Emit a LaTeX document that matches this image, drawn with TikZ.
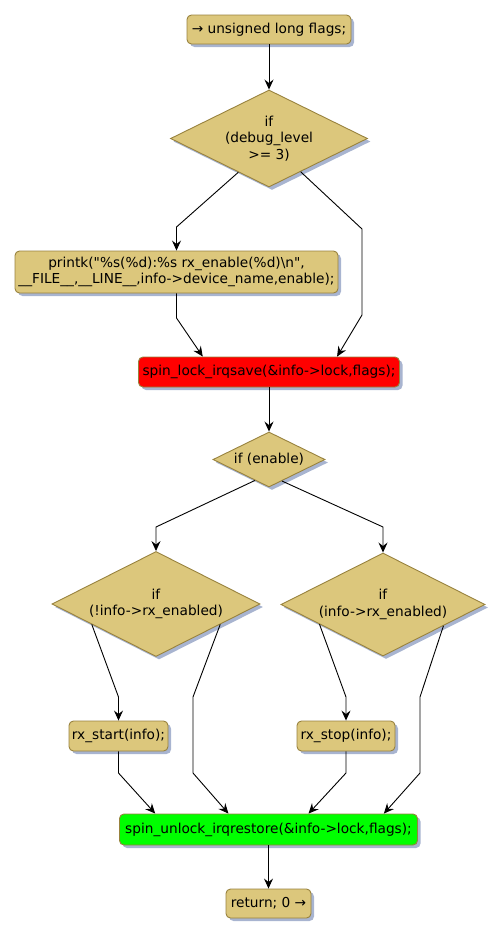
\documentclass[tikz,border=0pt]{standalone}
\usepackage{fontspec}
\newfontfamily\dvs{DejaVu Sans}
\usetikzlibrary{shapes.geometric,shadows,arrows.meta,calc}
\definecolor{actfill}{RGB}{220,199,124}
\definecolor{actborder}{RGB}{152,130,62}
\definecolor{shadowc}{RGB}{168,180,208}
\begin{document}
\begin{tikzpicture}[x=1pt,y=-1pt,
  font=\dvs\fontsize{13.7}{16.5}\selectfont,
  actbox/.style={draw=actborder,line width=0.9pt,fill=actfill,rounded corners=4.5pt,
    inner sep=0pt,align=center,
    drop shadow={shadow xshift=3pt,shadow yshift=-3pt,fill=shadowc,opacity=1}},
  decide/.style={diamond,aspect=2,draw=actborder,line width=0.9pt,fill=actfill,inner sep=0pt,align=center,
    drop shadow={shadow xshift=3pt,shadow yshift=-3pt,fill=shadowc,opacity=1}},
  arr/.style={draw=black,line width=0.9pt,-{Stealth[length=10pt,width=9pt,inset=3.5pt]}}]
\useasboundingbox (0,0) rectangle (503,937);

\node[actbox,minimum width=164pt,minimum height=29pt] (n1) at (269,29.5) {→ unsigned long flags;};
\node[decide,minimum width=197pt,minimum height=97pt] (d1) at (269,138.5) {if\\(debug\_level\\>= 3)};
\node[actbox,minimum width=323pt,minimum height=42pt] (pk) at (176.5,272) {printk("\%s(\%d):\%s rx\_enable(\%d)\textbackslash n",\\\_\_FILE\_\_,\_\_LINE\_\_,info->device\_name,enable);};
\node[actbox,fill=red,minimum width=261pt,minimum height=30pt] (sl) at (269,372) {spin\_lock\_irqsave(\&info->lock,flags);};
\node[decide,minimum width=112pt,minimum height=55pt] (d2) at (269,459.5) {if (enable)};
\node[decide,minimum width=208pt,minimum height=105pt] (d3) at (156,604) {if\\(!info->rx\_enabled)};
\node[decide,minimum width=204pt,minimum height=103pt] (d4) at (383,604.5) {if\\(info->rx\_enabled)};
\node[actbox,minimum width=99pt,minimum height=30pt] (rs) at (118.5,736) {rx\_start(info);};
\node[actbox,minimum width=98pt,minimum height=30pt] (rt) at (346,736) {rx\_stop(info);};
\node[actbox,fill=green,minimum width=298pt,minimum height=31pt] (su) at (268.5,829.5) {spin\_unlock\_irqrestore(\&info->lock,flags);};
\node[actbox,minimum width=85pt,minimum height=29pt] (rv) at (268.5,903.5) {return; 0 →};

\draw[arr] (n1.south) -- (d1.north);
\draw[arr] ($(d1.west)!0.69!(d1.south)$) -- (176.5,227) -- (pk.north);
\draw[arr] ($(d1.east)!0.68!(d1.south)$) -- (362,229) -- (362,315) -- ($(sl.north west)!0.76!(sl.north east)$);
\draw[arr] (pk.south) -- (176.5,318) -- ($(sl.north west)!0.247!(sl.north east)$);
\draw[arr] (sl.south) -- (d2.north);
\draw[arr] ($(d2.west)!0.75!(d2.south)$) -- (156,527) -- (d3.north);
\draw[arr] ($(d2.east)!0.77!(d2.south)$) -- (383,527) -- (d4.north);
\draw[arr] ($(d3.west)!0.385!(d3.south)$) -- (118.5,697) -- (rs.north);
\draw[arr] ($(d3.east)!0.385!(d3.south)$) -- (193,697) -- (193,773) -- ($(su.north west)!0.366!(su.north east)$);
\draw[arr] (rs.south) -- (118.5,773) -- ($(su.north west)!0.121!(su.north east)$);
\draw[arr] ($(d4.west)!0.38!(d4.south)$) -- (346,697) -- (rt.north);
\draw[arr] ($(d4.east)!0.41!(d4.south)$) -- (420,697) -- (420,773) -- ($(su.north west)!0.886!(su.north east)$);
\draw[arr] (rt.south) -- (346,773) -- ($(su.north west)!0.634!(su.north east)$);
\draw[arr] (su.south) -- (rv.north);
\end{tikzpicture}
\end{document}
